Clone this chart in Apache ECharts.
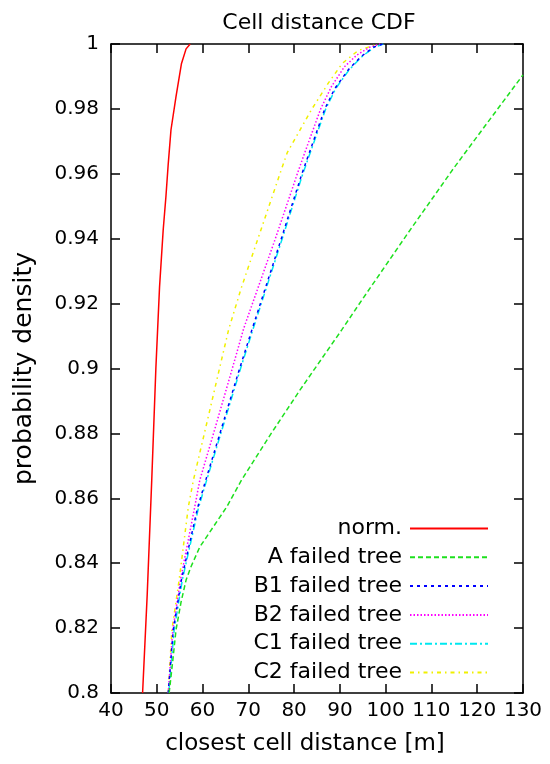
<!DOCTYPE html>
<html>
<head>
<meta charset="utf-8">
<script src="https://cdn.jsdelivr.net/npm/echarts@6/dist/echarts.min.js"></script>
<style>html,body{margin:0;padding:0;background:#fff;}#c{width:550px;height:764px;}</style>
</head>
<body>
<div id="c"></div>
<script>
// ---- data (x = closest cell distance [m], y = cumulative probability) ----
const seriesNames = ['norm.', 'A failed tree', 'B1 failed tree', 'B2 failed tree', 'C1 failed tree', 'C2 failed tree'];

const normData = [[46.9,0.8],[47.9,0.83],[48.9,0.8656],[49.8,0.9],[50.6,0.925],[51.4,0.9427],[52.0,0.953],[52.5,0.963],[53.1,0.9735],[54.2,0.9838],[55.4,0.994],[56.4,0.9985],[57.3,1.0]];

const aData = [[52.7,0.8],[53.5,0.81],[54.2,0.8194],[55.3,0.828],[56.4,0.8348],[57.5,0.839],[59.4,0.845],[65.3,0.8574],[68.5,0.8656],[75.0,0.880],[81.3,0.8934],[90.4,0.9119],[94.8,0.9211],[105.0,0.942],[115.0,0.962],[130.0,0.9905]];

const b1Data = [[52.5,0.8],[53.6,0.8194],[55.4,0.835],[58.9,0.857],[60.7,0.8656],[63.8,0.88],[68.1,0.9],[70.8,0.912],[77.2,0.94],[81.7,0.96],[83.4,0.9668],[86.7,0.98],[88.9,0.9863],[91.8,0.992],[94.6,0.9961],[97.3,0.999],[99.4,1.0]];

const b2Data = [[52.5,0.8],[53.5,0.8194],[55.2,0.835],[58.3,0.8574],[59.4,0.8656],[62.4,0.88],[66.5,0.9],[69.0,0.9124],[75.9,0.94],[80.7,0.96],[82.4,0.9668],[85.8,0.98],[88.2,0.987],[91.0,0.993],[93.7,0.9966],[96.5,0.999],[98.8,1.0]];

const c1Data = [[52.6,0.8],[53.8,0.8194],[55.6,0.835],[59.1,0.857],[60.9,0.8656],[64.0,0.88],[68.3,0.9],[71.0,0.912],[77.4,0.94],[81.9,0.96],[83.6,0.9668],[86.9,0.98],[89.1,0.9863],[92.0,0.992],[94.8,0.9961],[97.5,0.999],[99.5,1.0]];

const c2Data = [[52.5,0.8],[53.3,0.8194],[54.9,0.835],[56.9,0.8574],[58.0,0.8656],[60.4,0.88],[63.7,0.9],[65.7,0.912],[68.5,0.925],[72.1,0.94],[76.9,0.96],[78.5,0.9665],[83.9,0.98],[87.5,0.988],[90.5,0.994],[94.0,0.998],[98.3,1.0]];

const xTicks = [40, 50, 60, 70, 80, 90, 100, 110, 120, 130];
const yTicks = [0.8, 0.82, 0.84, 0.86, 0.88, 0.9, 0.92, 0.94, 0.96, 0.98, 1];

// ---- chart ----
const FONT = 'DejaVu Sans';
const chart = echarts.init(document.getElementById('c'), null, {renderer: 'canvas'});

const colors = ['#ff0000', '#1ee01e', '#0000ff', '#ff00ff', '#00e8f0', '#f0f000'];
const dashes = ['solid', [5, 3], [3, 4], [1.5, 2], [7, 3, 2, 3], [4, 4, 1.5, 4]];
const datas = [normData, aData, b1Data, b2Data, c1Data, c2Data];

const axisCommon = {
  axisLine: {show: true, lineStyle: {color: '#000', width: 1.5}},
  axisTick: {show: true, inside: true, length: 9, lineStyle: {color: '#000', width: 1.5}},
  splitLine: {show: false},
  minorTick: {show: false}
};

const xBase = Object.assign({}, axisCommon, {
  type: 'value', min: xTicks[0], max: xTicks[xTicks.length - 1], interval: 10
});
const yBase = Object.assign({}, axisCommon, {
  type: 'value', min: yTicks[0], max: yTicks[yTicks.length - 1], interval: 0.02
});

chart.setOption({
  animation: false,
  backgroundColor: '#fff',
  title: {
    text: 'Cell distance CDF',
    left: 314, top: 7, textAlign: 'center',
    textStyle: {fontFamily: FONT, fontSize: 22, fontWeight: 'normal', color: '#000'}
  },
  grid: {left: 111, right: 27, top: 44, bottom: 71, containLabel: false},
  xAxis: [
    Object.assign({}, xBase, {
      position: 'bottom',
      name: 'closest cell distance [m]', nameLocation: 'middle', nameGap: 40,
      nameTextStyle: {fontFamily: FONT, fontSize: 23, color: '#000', padding: [0, 24, 0, 0]},
      axisLabel: {show: true, margin: 8, fontFamily: FONT, fontSize: 20, color: '#000'}
    }),
    Object.assign({}, xBase, {position: 'top', axisLabel: {show: false}})
  ],
  yAxis: [
    Object.assign({}, yBase, {
      position: 'left',
      name: 'probability density', nameLocation: 'middle', nameGap: 74, nameRotate: 90,
      nameTextStyle: {fontFamily: FONT, fontSize: 25, color: '#000'},
      axisLabel: {show: true, margin: 12, fontFamily: FONT, fontSize: 20, color: '#000',
        formatter: v => String(+v.toFixed(2))}
    }),
    Object.assign({}, yBase, {position: 'right', axisLabel: {show: false}})
  ],
  legend: {
    orient: 'vertical', align: 'right',
    right: 56, top: 512.5,
    itemWidth: 78, itemHeight: 14, itemGap: 6.8,
    itemStyle: {opacity: 0},
    textStyle: {fontFamily: FONT, fontSize: 22, color: '#000', lineHeight: 22, padding: [0, 3, 0, 0]},
    data: seriesNames
  },
  series: seriesNames.map((n, i) => ({
    name: n, type: 'line', xAxisIndex: 0, yAxisIndex: 0,
    data: datas[i], symbol: 'none', smooth: false,
    lineStyle: {color: colors[i], width: 1.5, type: dashes[i]},
    itemStyle: {color: colors[i]},
    z: 10 - i
  }))
});
</script>
</body>
</html>
